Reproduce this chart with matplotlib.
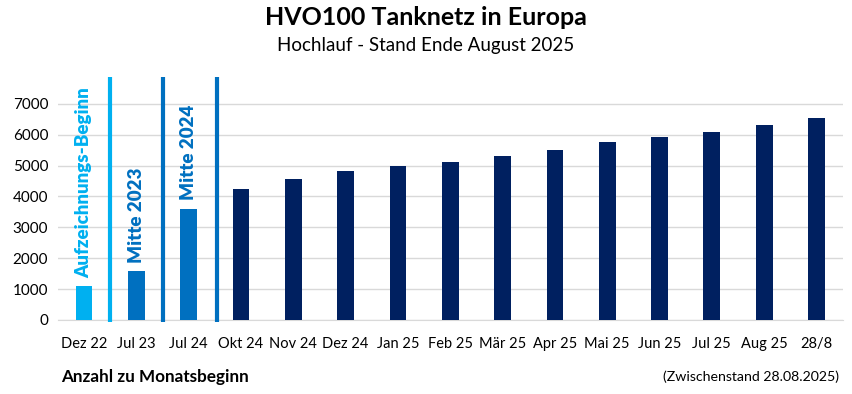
import numpy as np
import matplotlib
matplotlib.use("Agg")
import matplotlib.pyplot as plt

plt.rcParams['font.family'] = ['Lato', 'DejaVu Sans']

# Daten
months = ["Dez 22", "Jul 23", "Jul 24", "Okt 24", "Nov 24", "Dez 24", "Jan 25",
          "Feb 25", "Mär 25", "Apr 25", "Mai 25", "Jun 25", "Jul 25", "Aug 25", "28/8"]
stations = [1100, 1590, 3600, 4250, 4580, 4840, 5000,
            5100, 5320, 5520, 5750, 5910, 6100, 6300, 6530]
bar_colors = ["#00B0F0", "#0070C0", "#0070C0"] + ["#002060"] * 12

# Trennlinien zwischen den Zeitabschnitten
sep_pos = [0.5, 1.5, 2.55]
sep_colors = ["#00B0F0", "#0070C0", "#0070C0"]

# Beschriftungen ueber den ersten Balken
phase_labels = ["Aufzeichnungs-Beginn", "Mitte 2023", "Mitte 2024"]
phase_colors = ["#00B0F0", "#0070C0", "#0070C0"]

yticks = [0, 1000, 2000, 3000, 4000, 5000, 6000, 7000]

fig = plt.figure(figsize=(8.52, 3.94), dpi=100)
ax = fig.add_axes([0.068, 0.188, 0.921, 0.619])

x = np.arange(len(months))
ax.bar(x, stations, width=0.32, color=bar_colors, zorder=3)

for xp, c in zip(sep_pos, sep_colors):
    ax.plot([xp, xp], [-70, 7880], color=c, linewidth=3, clip_on=False, zorder=4,
            solid_capstyle='butt')

for i, (lab, c) in enumerate(zip(phase_labels, phase_colors)):
    ax.annotate(lab, (x[i], stations[i]), xytext=(0, 6), textcoords='offset points',
                rotation=90, ha='center', va='bottom', color=c,
                fontsize=13.5, fontweight='heavy')

ax.set_xlim(-0.5, len(months) - 0.5)
ax.set_ylim(0, 7900)
ax.set_yticks(yticks)
ax.set_xticks(x)
ax.set_xticklabels(months)
ax.tick_params(axis='both', length=0, labelsize=11, colors='#000000')
ax.tick_params(axis='x', pad=12, labelsize=10.5)
ax.tick_params(axis='y', pad=7)

ax.yaxis.grid(True, color='#D9D9D9', linewidth=1, zorder=0)
for s in ['top', 'right', 'left']:
    ax.spines[s].set_visible(False)
ax.spines['bottom'].set_color('#D9D9D9')

fig.text(0.5, 0.955, "HVO100 Tanknetz in Europa", ha='center', va='center',
         fontsize=18, fontweight='bold')
fig.text(0.5, 0.885, "Hochlauf - Stand Ende August 2025", ha='center', va='center',
         fontsize=13.5)
fig.text(0.072, 0.043, "Anzahl zu Monatsbeginn", ha='left', va='center',
         fontsize=12.3, fontweight='bold')
fig.text(0.985, 0.043, "(Zwischenstand 28.08.2025)", ha='right', va='center',
         fontsize=10.2)

fig.savefig("out.png", dpi=100)
